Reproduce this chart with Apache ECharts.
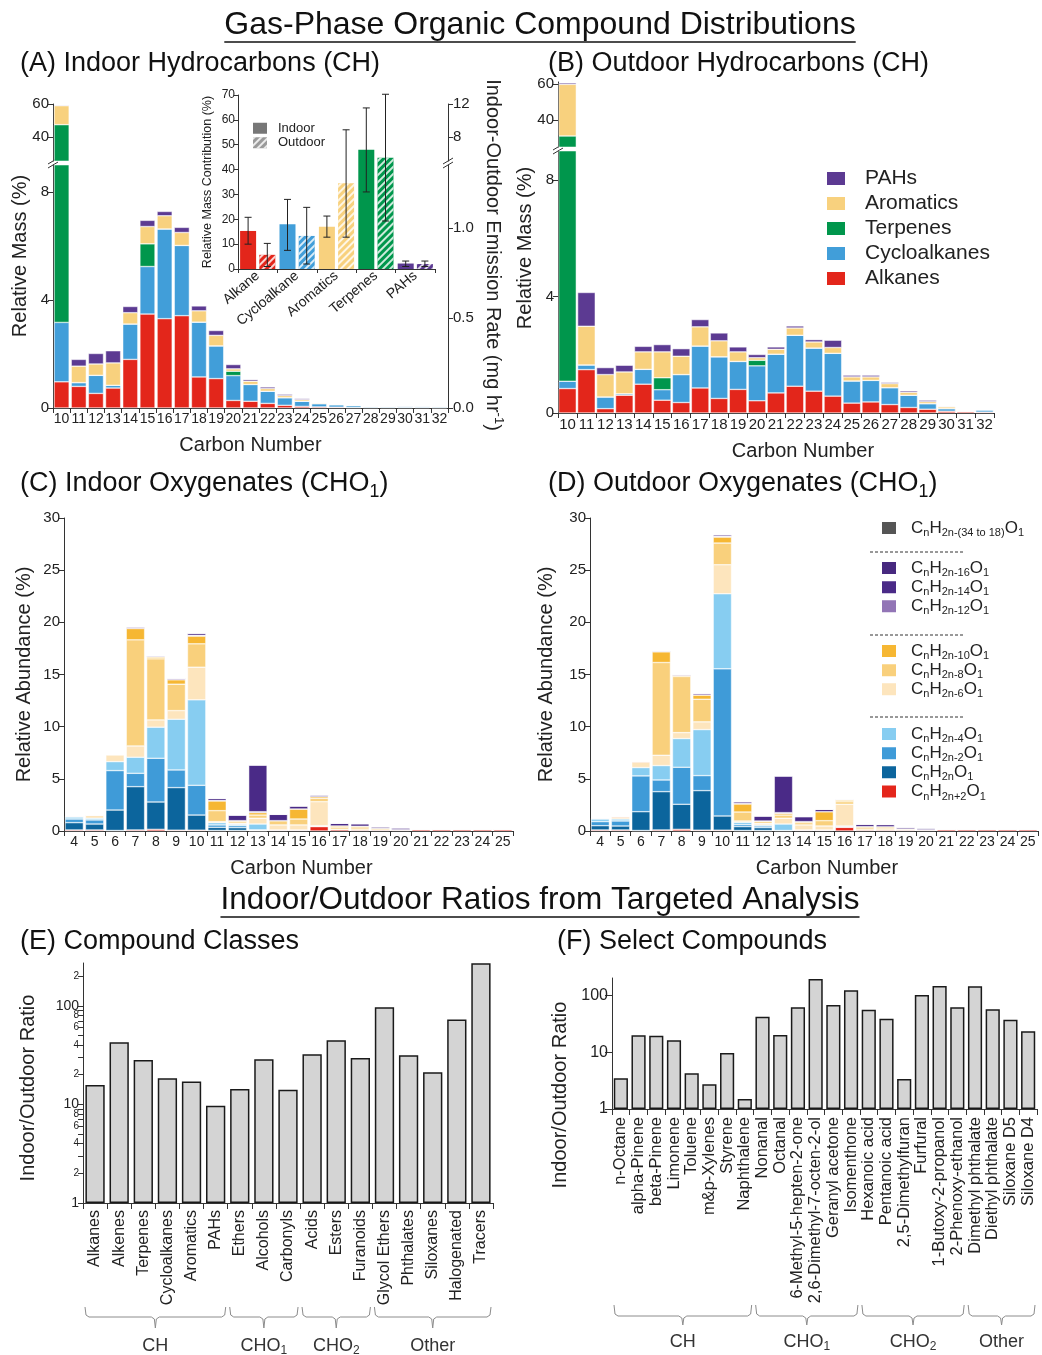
<!DOCTYPE html>
<html>
<head>
<meta charset="utf-8">
<title>Gas-Phase Organic Compound Distributions</title>
<script src="https://cdn.jsdelivr.net/npm/echarts@6.0.0/dist/echarts.min.js"></script>
<style>
html,body{margin:0;padding:0;background:#ffffff;}
#chart{width:1042px;height:1355px;}
</style>
</head>
<body>
<div id="chart"></div>
<script>
// ================= DATA =================
const CH_CARBON = ['10','11','12','13','14','15','16','17','18','19','20','21','22','23','24','25','26','27','28','29','30','31','32'];
const CH_CLASSES = ['Alkanes','Cycloalkanes','Terpenes','Aromatics','PAHs'];

// (A) Indoor hydrocarbons, relative mass (%), segment sizes
const IN_ALKANES = [0.97,0.80,0.54,0.74,1.80,3.48,3.31,3.42,1.15,1.09,0.28,0.25,0.17,0.10,0.06,0.04,0.03,0.02,0.02,0.02,0.02,0.02,0.01];
const IN_CYCLO   = [2.20,0.14,0.67,0.10,1.31,1.76,3.32,2.60,2.03,1.21,0.92,0.62,0.45,0.28,0.19,0.12,0.09,0.07,0.04,0.04,0.05,0.05,0.04];
const IN_TERP    = [44.3,0,0,0,0,0.84,0,0,0,0,0.16,0,0,0,0,0,0,0,0,0,0,0,0];
const IN_AROM    = [11.5,0.61,0.42,0.83,0.42,0.64,0.49,0.48,0.42,0.39,0.09,0.12,0.10,0.08,0.06,0.03,0.02,0.01,0,0,0.01,0,0];
const IN_PAH     = [0.4,0.25,0.39,0.45,0.23,0.23,0.16,0.19,0.18,0.18,0.16,0.06,0.06,0.05,0.04,0.01,0.01,0,0,0,0,0,0];

// (B) Outdoor hydrocarbons
const OUT_ALKANES = [0.84,1.49,0.15,0.61,0.99,0.44,0.36,0.86,0.50,0.81,0.42,0.69,0.92,0.75,0.58,0.34,0.38,0.29,0.19,0.13,0.06,0.05,0.03];
const OUT_CYCLO   = [0.25,0.16,0.40,0.05,0.51,0.36,0.96,1.44,1.43,0.96,1.20,1.33,1.75,1.48,1.47,0.76,0.74,0.58,0.42,0.19,0.09,0,0.08];
const OUT_TERP    = [29.9,0,0,0,0,0.41,0,0,0,0,0.19,0,0,0,0,0,0,0,0,0,0,0,0];
const OUT_AROM    = [29.0,1.33,0.77,0.75,0.60,0.89,0.63,0.66,0.55,0.33,0.09,0.17,0.25,0.21,0.20,0.14,0.12,0.14,0.10,0.07,0.06,0.02,0];
const OUT_PAH     = [0.8,1.16,0.24,0.23,0.19,0.25,0.26,0.25,0.27,0.17,0.11,0.08,0.07,0.08,0.25,0.06,0.06,0.04,0.05,0.05,0.02,0,0];

// Inset: relative mass contribution (%)
const INSET_CLASSES = ['Alkane','Cycloalkane','Aromatics','Terpenes','PAHs'];
const INSET_INDOOR    = [15.3,18.0,17.0,48.0,2.2];
const INSET_INDOOR_LO = [10.0,7.5,12.8,31.0,1.0];
const INSET_INDOOR_HI = [20.8,28.0,21.3,64.8,3.2];
const INSET_OUTDOOR    = [5.7,13.3,34.5,44.8,2.0];
const INSET_OUTDOOR_LO = [1.0,2.0,12.8,19.3,1.0];
const INSET_OUTDOOR_HI = [10.3,24.8,56.0,70.3,3.2];

// (C)/(D) Oxygenates CHO1, relative abundance (%)
const OXY_CARBON = ['4','5','6','7','8','9','10','11','12','13','14','15','16','17','18','19','20','21','22','23','24','25'];
const OXY_SUBS = ['2n+2','2n','2n-2','2n-4','2n-6','2n-8','2n-10','2n-12','2n-14','2n-16','2n-(34 to 18)'];

const IN_H2NP2  = [0.10,0.10,0.05,0.10,0.16,0.08,0.08,0.05,0.05,0.03,0.10,0.10,0.42,0.15,0.12,0.12,0.12,0.15,0.15,0.15,0.15,0.15];
const IN_H2N    = [0.70,0.57,1.96,4.15,2.62,4.08,1.45,0.30,0.27,0.04,0,0,0.05,0,0,0,0,0,0,0,0,0];
const IN_H2NM2  = [0.35,0.39,3.78,1.28,4.19,1.69,2.85,0.23,0.19,0.04,0,0,0.04,0,0,0,0,0,0,0,0,0];
const IN_H2NM4  = [0.19,0.16,0.86,1.54,2.98,4.86,8.19,0.22,0.13,0.56,0,0,0,0,0,0,0,0,0,0,0,0];
const IN_H2NM6  = [0.10,0.31,0.64,1.08,0.70,0.83,3.13,0.10,0.10,0.55,0.48,0.48,2.30,0,0,0,0,0,0,0,0,0];
const IN_H2NM8  = [0,0,0.05,10.17,5.85,2.53,2.24,1.05,0.16,0.31,0.41,0.57,0.32,0.17,0.18,0,0,0,0,0,0,0];
const IN_H2NM10 = [0,0,0,1.09,0.16,0.42,0.74,0.93,0.09,0.23,0,0.96,0.16,0.16,0.15,0.13,0,0,0,0,0,0];
const IN_H2NM12 = [0,0,0,0.16,0.13,0.16,0.08,0.05,0,0.09,0,0,0,0,0,0,0,0,0,0,0,0];
const IN_H2NM14 = [0,0,0,0,0,0,0.20,0.20,0.54,4.48,0.61,0.29,0.16,0.26,0.25,0.15,0.18,0,0,0,0,0];
const IN_H2NM16 = [0,0,0,0,0,0,0,0,0,0,0,0,0,0,0,0,0,0,0,0,0,0];
const IN_H2NM34 = [0,0,0,0,0,0,0,0,0,0,0,0,0,0,0,0,0,0,0,0,0,0];

const OUT_H2NP2  = [0.10,0.10,0.05,0.10,0.16,0.08,0.08,0.05,0.05,0.05,0.10,0.10,0.35,0.12,0.12,0.12,0.12,0.15,0.15,0.15,0.15,0.15];
const OUT_H2N    = [0.41,0.38,1.80,3.67,2.40,3.79,1.36,0.37,0.27,0,0,0,0.05,0,0,0,0,0,0,0,0,0];
const OUT_H2NM2  = [0.39,0.48,3.43,1.12,3.55,1.44,14.10,0.19,0.16,0,0,0,0.08,0,0,0,0,0,0,0,0,0];
const OUT_H2NM4  = [0.25,0.19,0.80,1.38,2.75,4.41,7.20,0.22,0.10,0.62,0,0,0,0,0,0,0,0,0,0,0,0];
const OUT_H2NM6  = [0.10,0.23,0.57,0.99,0.57,0.74,2.78,0.13,0.16,0.55,0.48,0.38,2.08,0,0,0,0,0,0,0,0,0];
const OUT_H2NM8  = [0,0,0,8.89,5.38,2.17,2.08,0.86,0.22,0.31,0.22,0.51,0.25,0.18,0.16,0,0,0,0,0,0,0];
const OUT_H2NM10 = [0,0,0,1.02,0.09,0.39,0.57,0.77,0,0.16,0.10,0.86,0.16,0.12,0.12,0.08,0,0,0,0,0,0];
const OUT_H2NM12 = [0,0,0,0.10,0.10,0.19,0.08,0.05,0,0.07,0,0,0,0,0,0,0,0,0,0,0,0];
const OUT_H2NM14 = [0,0,0,0,0,0,0.15,0.17,0.48,3.52,0.48,0.23,0.07,0.23,0.22,0.16,0.16,0,0,0,0,0];
const OUT_H2NM16 = [0,0,0,0,0,0,0,0,0,0,0,0,0,0,0,0,0,0,0,0,0,0];
const OUT_H2NM34 = [0,0,0,0,0,0,0,0,0,0,0,0,0,0,0,0,0,0,0,0,0,0];

// (E) Compound classes, indoor/outdoor ratio
const E_CLASSES = ['Alkanes','Alkenes','Terpenes','Cycloalkanes','Aromatics','PAHs','Ethers','Alcohols','Carbonyls','Acids','Esters','Furanoids','Glycol Ethers','Phthalates','Siloxanes','Halogenated','Tracers'];
const E_RATIO   = [15.7,42.7,28.2,18.4,17.1,9.7,14.3,28.7,14.1,32.2,44.8,29.6,96.9,31.5,21.2,72.6,271];
const E_GROUPS  = [['CH',0,5],['CHO1',6,8],['CHO2',9,11],['Other',12,16]];
const E_LABEL_TICKS = [1,2,4,6,8,10,20,40,60,80,100,200];
const E_TICKS   = [1,2,3,4,5,6,7,8,9,10,20,30,40,50,60,70,80,90,100,200];

// (F) Select compounds, indoor/outdoor ratio
const F_COMPOUNDS = ['n-Octane','alpha-Pinene','beta-Pinene','Limonene','Toluene','m&p-Xylenes','Styrene','Naphthalene','Nonanal','Octanal','6-Methyl-5-hepten-2-one','2,6-Dimethyl-7-octen-2-ol','Geranyl acetone','Isomenthone','Hexanoic acid','Pentanoic acid','2,5-Dimethylfuran','Furfural','1-Butoxy-2-propanol','2-Phenoxy-ethanol','Dimethyl phthalate','Diethyl phthalate','Siloxane D5','Siloxane D4'];
const F_RATIO     = [3.5,20,19.7,16.3,4.26,2.72,9.7,1.5,42.6,20.2,62.3,197,68.5,124,56.6,39.3,3.38,103,148,62.3,146,57.4,37.7,23.5];
const F_GROUPS    = [['CH',0,7],['CHO1',8,13],['CHO2',14,19],['Other',20,23]];
const F_TICKS     = [1,10,100];

// ================= STYLE =================
const FONT = '"Liberation Sans", Arial, Helvetica, sans-serif';
const INK = '#222';
const CH_COLORS = ['#e3261b','#419ed9','#00964c','#f8d17e','#5c3a92'];
const OXY_COLORS = ['#e4261c','#0c659d','#3f9bd8','#87cdf1','#fde5bd','#f9d07c','#f6b733','#9275b6','#4a2a87','#47297f','#555555'];
const HATCH = {symbol:'rect', symbolSize:1, color:'rgba(255,255,255,0.8)', dashArrayX:[1,0], dashArrayY:[1.3,2.3], rotation:-Math.PI/4};

const chart = echarts.init(document.getElementById('chart'), null, {renderer:'canvas', width:1042, height:1355});

const axisLine = {show:true, lineStyle:{color:'#333', width:1}};
const axisTick = {show:true, length:5, lineStyle:{color:'#333', width:1}};

function catAxis(gridIndex, data, extra) {
  return Object.assign({
    type:'category', gridIndex, data,
    axisLine, axisTick:Object.assign({interval:0}, axisTick),
    axisLabel:{interval:0, fontSize:14, color:INK, margin:4},
    splitLine:{show:false}
  }, extra || {});
}
function valAxis(gridIndex, min, max, labelVals, extra) {
  return Object.assign({
    type:'value', gridIndex, min, max,
    axisLine, axisTick:Object.assign({customValues:labelVals}, axisTick),
    axisLabel:{customValues:labelVals, fontSize:15, color:INK, margin:4},
    splitLine:{show:false}
  }, extra || {});
}

const xAxis = [
  catAxis(0, CH_CARBON, {name:'Carbon Number', nameLocation:'middle', nameGap:27, nameTextStyle:{fontSize:20, color:INK}}),
  catAxis(1, CH_CARBON, {show:false}),
  catAxis(2, INSET_CLASSES, {axisLabel:{interval:0, rotate:40, fontSize:14, color:INK, margin:5}, axisTick:{show:true, interval:0, length:4, lineStyle:{color:'#333'}}}),
  catAxis(3, CH_CARBON, {axisLabel:{interval:0, fontSize:15, color:INK, margin:4}, name:'Carbon Number', nameLocation:'middle', nameGap:28, nameTextStyle:{fontSize:20, color:INK, padding:[0,0,0,54]}}),
  catAxis(4, CH_CARBON, {show:false}),
  catAxis(5, OXY_CARBON, {name:'Carbon Number', nameLocation:'middle', nameGap:27, nameTextStyle:{fontSize:20, color:INK, padding:[0,0,0,26]}}),
  catAxis(6, OXY_CARBON, {name:'Carbon Number', nameLocation:'middle', nameGap:27, nameTextStyle:{fontSize:20, color:INK, padding:[0,0,0,26]}}),
  catAxis(7, E_CLASSES, {axisLabel:{interval:0, rotate:90, fontSize:16, color:INK, margin:7}, axisTick:{show:true, interval:0, length:6, lineStyle:{color:'#333'}}}),
  catAxis(8, F_COMPOUNDS, {axisLabel:{interval:0, rotate:90, fontSize:16.5, color:INK, margin:8}, axisTick:{show:true, interval:0, length:6, lineStyle:{color:'#333'}}})
];

const yAxis = [
  valAxis(0, 0, 9.0, [0,4,8]),
  valAxis(1, 25.45, 60, [40,60]),
  valAxis(0, 0, 1.35, [0,0.5,1.0], {position:'right', axisLabel:{customValues:[0,0.5,1.0], fontSize:15, color:INK, margin:5, formatter:v=>v.toFixed(1)}}),
  valAxis(1, 5.09, 12, [8,12], {position:'right', axisLabel:{customValues:[8,12], fontSize:15, color:INK, margin:5}}),
  valAxis(2, 0, 70, [0,10,20,30,40,50,60,70], {axisLabel:{customValues:[0,10,20,30,40,50,60,70], fontSize:12, color:INK, margin:3}, axisTick:{customValues:[0,10,20,30,40,50,60,70], show:true, length:4, lineStyle:{color:'#333'}},
     name:'Relative Mass Contribution (%)', nameLocation:'middle', nameGap:24, nameTextStyle:{fontSize:12.5, color:INK}}),
  valAxis(3, 0, 9.0, [0,4,8]),
  valAxis(4, 24.8, 61.3, [40,60]),
  valAxis(5, 0, 30, [0,5,10,15,20,25,30], {name:'Relative Abundance (%)', nameLocation:'middle', nameGap:30, nameTextStyle:{fontSize:20, color:INK}}),
  valAxis(6, 0, 30, [0,5,10,15,20,25,30], {name:'Relative Abundance (%)', nameLocation:'middle', nameGap:34, nameTextStyle:{fontSize:20, color:INK}}),
  {type:'log', gridIndex:7, min:1, max:272, logBase:10, axisLine,
   axisTick:Object.assign({}, axisTick, {customValues:E_TICKS, length:5}),
   axisLabel:{customValues:E_LABEL_TICKS, color:INK, margin:4,
     formatter:v=>{const r=Math.round(v); const l=Math.log10(r); return Math.abs(l-Math.round(l))<1e-9 ? '{big|'+r+'}' : '{sm|'+String(r)[0]+'}';},
     rich:{big:{fontSize:14, color:INK}, sm:{fontSize:10, color:INK}}},
   splitLine:{show:false}},
  {type:'log', gridIndex:8, min:1, max:205, logBase:10, axisLine,
   axisTick:Object.assign({}, axisTick, {customValues:F_TICKS, length:7}),
   axisLabel:{customValues:F_TICKS, fontSize:16, color:INK, margin:4},
   splitLine:{show:false}}
];

const series = [];
const IN_CH = [IN_ALKANES, IN_CYCLO, IN_TERP, IN_AROM, IN_PAH];
const OUT_CH = [OUT_ALKANES, OUT_CYCLO, OUT_TERP, OUT_AROM, OUT_PAH];
CH_CLASSES.forEach((nm, i) => {
  const st = {color:CH_COLORS[i], borderColor:'#fff', borderWidth:0.5};
  series.push({type:'bar', name:nm, xAxisIndex:0, yAxisIndex:0, stack:'A', data:IN_CH[i], barCategoryGap:'12%', itemStyle:st});
  series.push({type:'bar', name:nm, xAxisIndex:1, yAxisIndex:1, stack:'Au', data:IN_CH[i], barCategoryGap:'12%', itemStyle:st});
  series.push({type:'bar', name:nm, xAxisIndex:3, yAxisIndex:5, stack:'B', data:OUT_CH[i], barCategoryGap:'7%', itemStyle:st});
  series.push({type:'bar', name:nm, xAxisIndex:4, yAxisIndex:6, stack:'Bu', data:OUT_CH[i], barCategoryGap:'7%', itemStyle:st});
});

// inset
const INSET_COLORS = ['#e3261b','#419ed9','#f8d17e','#00964c','#5c3a92'];
series.push({type:'bar', name:'Indoor', xAxisIndex:2, yAxisIndex:4, data:INSET_INDOOR, barWidth:16, barGap:'20%',
  itemStyle:{color:p=>INSET_COLORS[p.dataIndex]}});
series.push({type:'bar', name:'Outdoor', xAxisIndex:2, yAxisIndex:4, data:INSET_OUTDOOR, barWidth:16, barGap:'20%',
  itemStyle:{color:p=>INSET_COLORS[p.dataIndex], decal:HATCH}});
function errRender(offset) {
  return function (params, api) {
    const i = api.value(0);
    const x = api.coord([i, 0])[0] + offset;
    const lo = api.coord([i, api.value(1)])[1];
    const hi = api.coord([i, api.value(2)])[1];
    const c = 3.5, s = {stroke:'#222', lineWidth:1};
    return {type:'group', children:[
      {type:'line', shape:{x1:x, y1:lo, x2:x, y2:hi}, style:s},
      {type:'line', shape:{x1:x-c, y1:lo, x2:x+c, y2:lo}, style:s},
      {type:'line', shape:{x1:x-c, y1:hi, x2:x+c, y2:hi}, style:s}
    ]};
  };
}
series.push({type:'custom', name:'IndoorErr', xAxisIndex:2, yAxisIndex:4, renderItem:errRender(-9.6),
  encode:{x:0, y:[1,2]}, data:INSET_CLASSES.map((c,i)=>[i, INSET_INDOOR_LO[i], INSET_INDOOR_HI[i]]), z:5});
series.push({type:'custom', name:'OutdoorErr', xAxisIndex:2, yAxisIndex:4, renderItem:errRender(9.6),
  encode:{x:0, y:[1,2]}, data:INSET_CLASSES.map((c,i)=>[i, INSET_OUTDOOR_LO[i], INSET_OUTDOOR_HI[i]]), z:5});

// oxygenates
const OXY_NAMES = OXY_SUBS.map(s => 'CnH' + s + 'O1');
const IN_OXY = [IN_H2NP2, IN_H2N, IN_H2NM2, IN_H2NM4, IN_H2NM6, IN_H2NM8, IN_H2NM10, IN_H2NM12, IN_H2NM14, IN_H2NM16, IN_H2NM34];
const OUT_OXY = [OUT_H2NP2, OUT_H2N, OUT_H2NM2, OUT_H2NM4, OUT_H2NM6, OUT_H2NM8, OUT_H2NM10, OUT_H2NM12, OUT_H2NM14, OUT_H2NM16, OUT_H2NM34];
OXY_NAMES.forEach((nm, i) => {
  const st = {color:OXY_COLORS[i], borderColor:'#fff', borderWidth:0.5};
  series.push({type:'bar', name:nm, xAxisIndex:5, yAxisIndex:7, stack:'C', data:IN_OXY[i], barCategoryGap:'10%', itemStyle:st});
  series.push({type:'bar', name:nm, xAxisIndex:6, yAxisIndex:8, stack:'D', data:OUT_OXY[i], barCategoryGap:'10%', itemStyle:st});
});

// ratios
const RATIO_STYLE = {color:'#d4d4d4', borderColor:'#1a1a1a', borderWidth:1.5};
series.push({type:'bar', name:'Compound Classes', xAxisIndex:7, yAxisIndex:9, data:E_RATIO, barCategoryGap:'20%', itemStyle:RATIO_STYLE});
series.push({type:'bar', name:'Select Compounds', xAxisIndex:8, yAxisIndex:10, data:F_RATIO, barCategoryGap:'20%', itemStyle:RATIO_STYLE});

const oxyRich = {b:{fontSize:17, lineHeight:21.3, color:INK}, s:{fontSize:11, lineHeight:11, verticalAlign:'bottom', color:INK}};
const oxyFmt = name => { const sub = name.slice(3, name.length - 2); return '{b|C}{s|n}{b|H}{s|' + sub + '}{b|O}{s|1}'; };
function oxyLegend(top, names) {
  return {show:true, orient:'vertical', left:880, top, padding:0, itemGap:0, itemWidth:16, itemHeight:14, icon:'rect',
    selectedMode:false, data:names, formatter:oxyFmt, textStyle:{rich:oxyRich, padding:[0,0,0,9]}};
}

const legend = [
  {show:true, orient:'vertical', left:825, top:166, padding:0, itemGap:0, itemWidth:20, itemHeight:15, icon:'rect', selectedMode:false,
   data:['PAHs','Aromatics','Terpenes','Cycloalkanes','Alkanes'], textStyle:{fontSize:21, lineHeight:25, color:INK, padding:[0,0,0,14]}},
  {show:true, orient:'vertical', left:253, top:121, padding:0, itemGap:0, itemWidth:14, itemHeight:11, icon:'rect', selectedMode:false,
   data:[{name:'Indoor', itemStyle:{color:'#777'}}, {name:'Outdoor', itemStyle:{color:'#9a9a9a', decal:HATCH}}],
   textStyle:{fontSize:13, lineHeight:14.5, color:INK, padding:[0,0,0,6]}},
  oxyLegend(519.5, [OXY_NAMES[10]]),
  oxyLegend(559.5, [OXY_NAMES[9], OXY_NAMES[8], OXY_NAMES[7]]),
  oxyLegend(642.5, [OXY_NAMES[6], OXY_NAMES[5], OXY_NAMES[4]]),
  oxyLegend(725.5, [OXY_NAMES[3], OXY_NAMES[2], OXY_NAMES[1], OXY_NAMES[0]])
];

const option = {
  animation:false,
  backgroundColor:'#ffffff',
  textStyle:{fontFamily:FONT},
  grid:[
    {left:53, top:165, width:395, height:243},
    {left:53, top:104, width:395, height:57},
    {left:238, top:95, width:197, height:174},
    {left:558, top:151, width:436, height:262},
    {left:558, top:82, width:436, height:65},
    {left:64, top:518, width:449, height:313},
    {left:590, top:518, width:448, height:313},
    {left:83, top:963, width:410, height:240},
    {left:612, top:978, width:425, height:131}
  ],
  legend, xAxis, yAxis, series
};
chart.setOption(option);

// ================= TEXT & DECORATION =================
const G = [];
const measure = (() => { const ctx = document.createElement('canvas').getContext('2d'); return (t, size) => { ctx.font = size + 'px ' + FONT; return ctx.measureText(t).width; }; })();
function text(x, y, str, size, opts) {
  const o = opts || {};
  G.push({type:'text', x, y, rotation:o.rotation || 0, silent:true,
    style:Object.assign({text:str, fontSize:size, fontFamily:FONT, fill:o.fill || '#111', align:o.align || 'left', verticalAlign:'middle'}, o.style || {})});
}
function line(x1, y1, x2, y2, st) {
  G.push({type:'line', silent:true, shape:{x1, y1, x2, y2}, style:Object.assign({stroke:'#333', lineWidth:1}, st || {})});
}
// main & section titles with underline
const T1 = 'Gas-Phase Organic Compound Distributions';
text(540, 25, T1, 32, {align:'center'});
const w1 = measure(T1, 32); line(540 - w1/2, 42, 540 + w1/2, 42, {stroke:'#111', lineWidth:1.5});
const T2 = 'Indoor/Outdoor Ratios from Targeted Analysis';
text(540, 900, T2, 31.5, {align:'center'});
const w2 = measure(T2, 31.5); line(540 - w2/2, 917, 540 + w2/2, 917, {stroke:'#111', lineWidth:1.5});

// panel titles
const subRich = (sz) => ({s:{fontSize:sz*0.66, verticalAlign:'bottom', lineHeight:sz*0.66, fill:'#111'}, b:{fontSize:sz, lineHeight:sz*1.25, fill:'#111'}});
text(20, 64, '(A) Indoor Hydrocarbons (CH)', 27);
text(548, 64, '(B) Outdoor Hydrocarbons (CH)', 27);
text(20, 484, '{b|(C) Indoor Oxygenates (CHO}{s|1}{b|)}', 27, {style:{rich:subRich(27)}});
text(548, 484, '{b|(D) Outdoor Oxygenates (CHO}{s|1}{b|)}', 27, {style:{rich:subRich(27)}});
text(20, 942, '(E) Compound Classes', 27);
text(557, 942, '(F) Select Compounds', 27);

// axis titles placed as in the reference
text(20, 256, 'Relative Mass (%)', 20, {align:'center', rotation:Math.PI/2, fill:INK});
text(525, 248, 'Relative Mass (%)', 20, {align:'center', rotation:Math.PI/2, fill:INK});
text(493, 255, '{a|Indoor-Outdoor Emission Rate (mg hr}{p|-1}{a|)}', 20, {align:'center', rotation:-Math.PI/2, fill:INK,
  style:{rich:{a:{fontSize:20, lineHeight:24, fill:INK}, p:{fontSize:13, lineHeight:13, verticalAlign:'top', fill:INK}}}});
text(28, 1088, 'Indoor/Outdoor Ratio', 20, {align:'center', rotation:Math.PI/2, fill:INK});
text(560, 1095, 'Indoor/Outdoor Ratio', 20, {align:'center', rotation:Math.PI/2, fill:INK});

// axis break marks
function breakMark(x, y) {
  [-2, 2].forEach(d => line(x - 5, y + d + 3, x + 5, y + d - 3, {stroke:'#333', lineWidth:1}));
}
breakMark(53, 163); breakMark(448, 163); breakMark(558, 149);

// legend separators (D)
[552, 635, 717].forEach(y => line(870, y, 963, y, {stroke:'#333', lineWidth:1, lineDash:[3, 2]}));

// group braces under E and F
const groupLabel = g => g === 'CHO1' ? '{b|CHO}{s|1}' : g === 'CHO2' ? '{b|CHO}{s|2}' : '{b|' + g + '}';
function braces(axisIndex, groups, yTop, yLine, yTip, yLabel) {
  const px = i => chart.convertToPixel({xAxisIndex:axisIndex}, i);
  const bw = px(1) - px(0);
  groups.forEach(([g, a, b]) => {
    const x1 = px(a) - bw/2 + 2, x2 = px(b) + bw/2 - 2, xm = (x1 + x2) / 2;
    G.push({type:'polyline', silent:true,
      shape:{points:[[x1, yTop], [x1 + 1, yLine - 2], [x1 + 4, yLine], [xm - 4, yLine], [xm - 1, yLine + 2], [xm, yTip], [xm + 1, yLine + 2], [xm + 4, yLine], [x2 - 4, yLine], [x2 - 1, yLine - 2], [x2, yTop]]},
      style:{stroke:'#8c8c8c', lineWidth:1, fill:null}});
    text(xm, yLabel, groupLabel(g), 18, {align:'center', style:{rich:{b:{fontSize:18, lineHeight:22, fill:'#333'}, s:{fontSize:12, lineHeight:12, verticalAlign:'bottom', fill:'#333'}}}});
  });
}
braces(7, E_GROUPS, 1307, 1317, 1328, 1346);
braces(8, F_GROUPS, 1305, 1316, 1325, 1342);

chart.setOption({graphic:G});
</script>
</body>
</html>
